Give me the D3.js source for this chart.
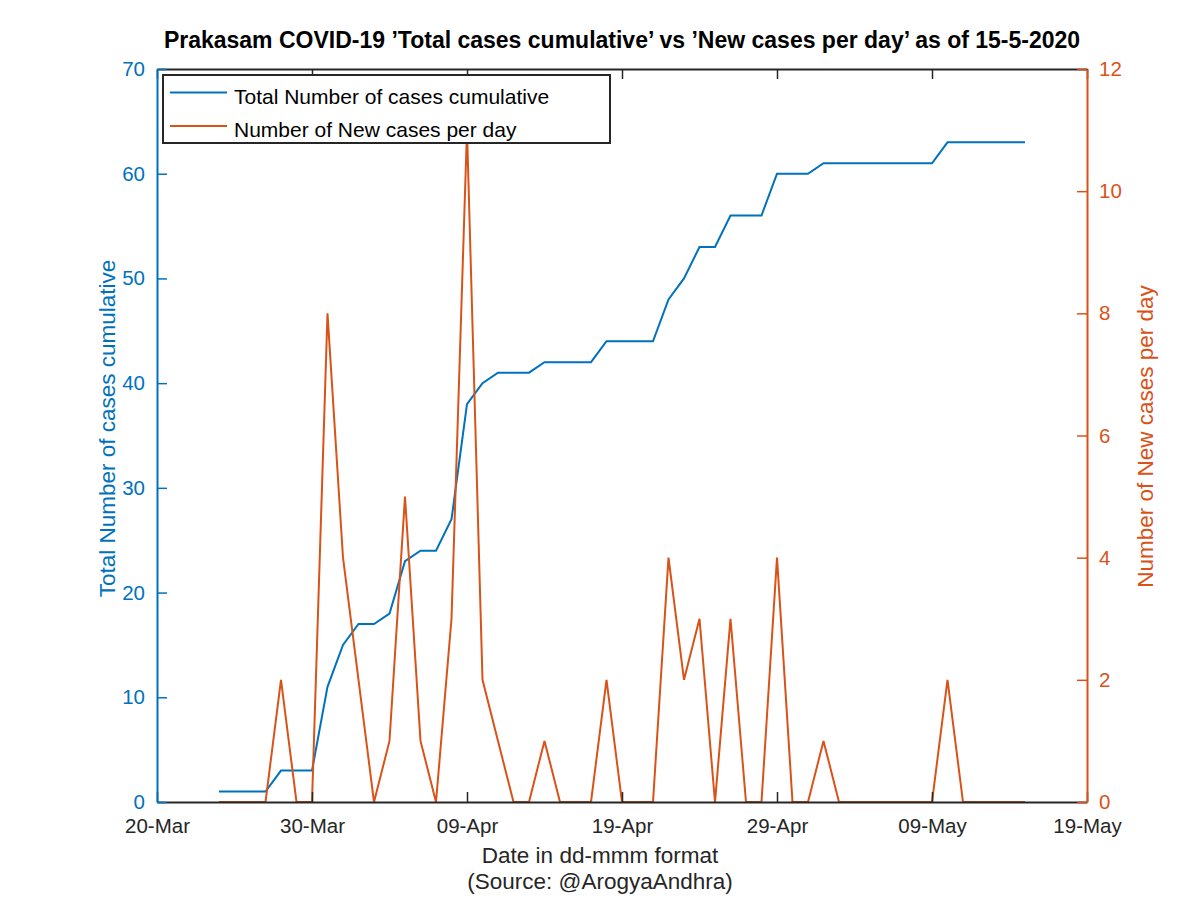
<!DOCTYPE html>
<html>
<head>
<meta charset="utf-8">
<script src="https://cdn.jsdelivr.net/npm/d3@7"></script>
<style>
  html, body { margin: 0; padding: 0; background: #fff; }
  svg { display: block; }
  text { font-family: "Liberation Sans", Arial, Helvetica, sans-serif; }
</style>
</head>
<body>
<svg id="chart" width="1200" height="898"></svg>
<script>
// ---- Data ----
const startDate = "2020-03-24";
const cumulativeCases = [1,1,1,1,3,3,3,11,15,17,17,18,23,24,24,27,38,40,41,41,41,42,42,42,42,44,44,44,44,48,50,53,53,56,56,56,60,60,60,61,61,61,61,61,61,61,61,63,63,63,63,63,63];
const newCases =        [0,0,0,0,2,0,0,8,4,2,0,1,5,1,0,3,11,2,1,0,0,1,0,0,0,2,0,0,0,4,2,3,0,3,0,0,4,0,0,1,0,0,0,0,0,0,0,2,0,0,0,0,0];
const xTickDates = ["2020-03-20","2020-03-30","2020-04-09","2020-04-19","2020-04-29","2020-05-09","2020-05-19"];
const leftTicks = [0,10,20,30,40,50,60,70];
const rightTicks = [0,2,4,6,8,10,12];
const seriesNames = ["Total Number of cases cumulative", "Number of New cases per day"];
const titleText = "Prakasam COVID-19 \u2019Total cases cumulative\u2019 vs \u2019New cases per day\u2019 as of 15-5-2020";

// ---- Layout ----
const W = 1200, H = 898;
const L = 157, R = 1087, T = 69, B = 802;
const BLUE = "#0072BD", ORANGE = "#D95319", DARK = "#262626";
const TICK_FS = 20.5, LABEL_FS = 22.5, LEGEND_FS = 21, TITLE_FS = 23;

const parse = d3.utcParse("%Y-%m-%d");
const d0 = parse(startDate);
const dates = cumulativeCases.map((_, i) => d3.utcDay.offset(d0, i));

const x = d3.scaleUtc().domain([parse(xTickDates[0]), parse(xTickDates[xTickDates.length-1])]).range([L, R]);
const yL = d3.scaleLinear().domain([0, 70]).range([B, T]);
const yR = d3.scaleLinear().domain([0, 12]).range([B, T]);

const svg = d3.select("#chart");
svg.append("rect").attr("width", W).attr("height", H).attr("fill", "#fff");

// ---- Lines ----
const lineL = d3.line().x((d, i) => x(dates[i])).y(d => yL(d));
const lineR = d3.line().x((d, i) => x(dates[i])).y(d => yR(d));
svg.append("path").datum(cumulativeCases).attr("d", lineL)
  .attr("fill", "none").attr("stroke", BLUE).attr("stroke-width", 2);
svg.append("path").datum(newCases).attr("d", lineR)
  .attr("fill", "none").attr("stroke", ORANGE).attr("stroke-width", 2);

// ---- Axes ----
const xTicks = xTickDates.map(parse);
const fmt = d3.utcFormat("%d-%b");

const gTop = svg.append("g").attr("transform", `translate(0,${T})`)
  .call(d3.axisTop(x).tickValues(xTicks).tickSizeInner(-10).tickSizeOuter(0).tickFormat(""));
gTop.selectAll("line").attr("stroke", DARK).attr("stroke-width", 1.5);
gTop.select(".domain").attr("stroke", DARK).attr("stroke-width", 2);

const gBot = svg.append("g").attr("transform", `translate(0,${B})`)
  .call(d3.axisBottom(x).tickValues(xTicks).tickSizeInner(-10).tickSizeOuter(0).tickPadding(16).tickFormat(fmt));
gBot.selectAll("line").attr("stroke", DARK).attr("stroke-width", 1.5);
gBot.select(".domain").attr("stroke", DARK).attr("stroke-width", 2);
gBot.selectAll("text").attr("fill", DARK).attr("font-size", TICK_FS);

const gL = svg.append("g").attr("transform", `translate(${L},0)`)
  .call(d3.axisLeft(yL).tickValues(leftTicks).tickSizeInner(-10).tickSizeOuter(0).tickPadding(12));
gL.selectAll("line").attr("stroke", BLUE).attr("stroke-width", 1.5);
gL.select(".domain").attr("stroke", BLUE).attr("stroke-width", 2);
gL.selectAll("text").attr("fill", BLUE).attr("font-size", TICK_FS);

const gR = svg.append("g").attr("transform", `translate(${R},0)`)
  .call(d3.axisRight(yR).tickValues(rightTicks).tickSizeInner(-10).tickSizeOuter(0).tickPadding(12));
gR.selectAll("line").attr("stroke", ORANGE).attr("stroke-width", 1.5);
gR.select(".domain").attr("stroke", ORANGE).attr("stroke-width", 2);
gR.selectAll("text").attr("fill", ORANGE).attr("font-size", TICK_FS);

// ---- Labels ----
svg.append("text").attr("x", (L + R) / 2).attr("y", 48).attr("text-anchor", "middle")
  .attr("font-size", TITLE_FS).attr("font-weight", "bold").attr("fill", "#000").text(titleText);

const xLabelCx = 600;
svg.append("text").attr("x", xLabelCx).attr("y", 863).attr("text-anchor", "middle")
  .attr("font-size", LABEL_FS).attr("fill", DARK).text("Date in dd-mmm format");
svg.append("text").attr("x", xLabelCx).attr("y", 889).attr("text-anchor", "middle")
  .attr("font-size", LABEL_FS).attr("fill", DARK).text("(Source: @ArogyaAndhra)");

svg.append("text").attr("transform", `translate(115,${(T + B) / 2 - 7}) rotate(-90)`)
  .attr("text-anchor", "middle").attr("font-size", LABEL_FS).attr("fill", BLUE).text(seriesNames[0]);
svg.append("text").attr("transform", `translate(1153,${(T + B) / 2 + 1}) rotate(-90)`)
  .attr("text-anchor", "middle").attr("font-size", LABEL_FS).attr("fill", ORANGE).text(seriesNames[1]);

// ---- Legend ----
const leg = svg.append("g");
leg.append("rect").attr("x", 163).attr("y", 75).attr("width", 447).attr("height", 68)
  .attr("fill", "#fff").attr("stroke", DARK).attr("stroke-width", 2);
const legColors = [BLUE, ORANGE];
seriesNames.forEach((n, i) => {
  const yy = 92.5 + i * 33.5;
  leg.append("line").attr("x1", 170).attr("x2", 227).attr("y1", yy).attr("y2", yy)
    .attr("stroke", legColors[i]).attr("stroke-width", 2);
  leg.append("text").attr("x", 234).attr("y", yy + 4).attr("dy", "0.35em")
    .attr("font-size", LEGEND_FS).attr("fill", "#000").text(n);
});
</script>
</body>
</html>
